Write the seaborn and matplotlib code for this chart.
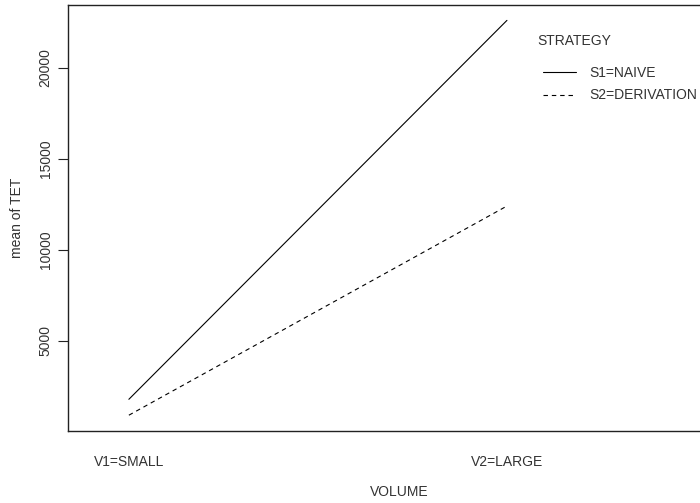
import matplotlib
matplotlib.use("Agg")
import matplotlib.pyplot as plt
import seaborn as sns
import pandas as pd
from matplotlib.lines import Line2D

volume_levels = ["V1=SMALL", "V2=LARGE"]
strategies = ["S1=NAIVE", "S2=DERIVATION"]
naive_means = [1780, 22600]
derivation_means = [906, 12400]

sns.set_style("white")
plt.rcParams['font.family'] = ['Liberation Sans', 'DejaVu Sans']

rows = []
for i, v in enumerate(volume_levels):
    rows.append({"pos": i + 1, "VOLUME": v, "STRATEGY": strategies[0], "TET": naive_means[i]})
    rows.append({"pos": i + 1, "VOLUME": v, "STRATEGY": strategies[1], "TET": derivation_means[i]})
df = pd.DataFrame(rows)

FS = 10
TXT = "#333333"

fig = plt.figure(figsize=(7.0, 5.03), dpi=100)
ax = fig.add_axes([68/700, 72/503, 662/700, 426.3/503])
sns.lineplot(data=df, x="pos", y="TET", style="STRATEGY", hue="STRATEGY",
             palette=["black", "black"], dashes=[(None, None), (4, 3.5)],
             linewidth=0.8, ax=ax, legend=False)
ax.set_xlim(0.839, 2.59)
ax.set_ylim(38, 23462)
ax.set_yticks([5000, 10000, 15000, 20000])
ax.set_yticklabels(["5000", "10000", "15000", "20000"], rotation=90, va="center")
ax.set_xticks([1, 2])
ax.set_xticklabels(volume_levels)
ax.tick_params(axis="y", length=7, width=0.8, color="#222222", labelsize=FS,
               labelcolor=TXT, pad=4, left=True)
ax.tick_params(axis="x", length=0, labelsize=FS, labelcolor=TXT, pad=17.5)
ax.set_xlabel("VOLUME", fontsize=FS, color=TXT, labelpad=11.5)
ax.set_ylabel("mean of TET", fontsize=FS, color=TXT, labelpad=10.5)
for s in ax.spines.values():
    s.set_visible(True)
    s.set_color("#222222")
    s.set_linewidth(1.0)

handles = [Line2D([], [], color="black", lw=0.8),
           Line2D([], [], color="black", lw=0.8, dashes=(4, 3.5))]
ax.text(537/700, 1 - 41/503, "STRATEGY", transform=fig.transFigure,
        fontsize=FS, color=TXT, va="center", ha="left")
leg = ax.legend(handles, strategies, frameon=False, fontsize=FS,
                loc="center left", bbox_to_anchor=(536/700, 1 - 84/503),
                bbox_transform=fig.transFigure, handlelength=2.37,
                handletextpad=1.0, labelspacing=0.64, borderpad=0)
for t in leg.get_texts():
    t.set_color(TXT)

fig.savefig("out.png", dpi=100)
